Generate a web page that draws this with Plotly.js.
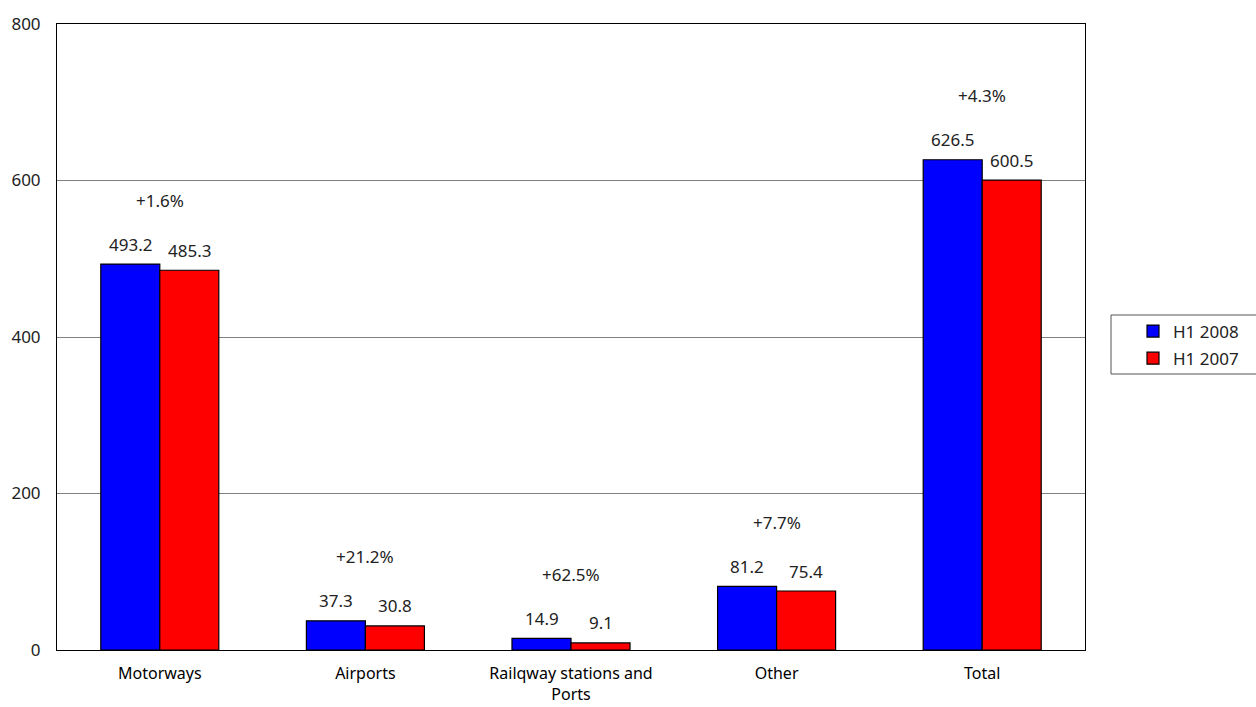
<!DOCTYPE html>
<html><head><meta charset="utf-8">
<script src="https://cdn.plot.ly/plotly-3.0.1.min.js"></script>
<style>body{margin:0;}#c{width:1256px;height:707px;}</style>
</head><body><div id="c"></div>
<script>
const categories = ["Motorways", "Airports", "Railqway stations and<br>Ports", "Other", "Total"];
const h12008 = [493.2, 37.3, 14.9, 81.2, 626.5];
const h12007 = [485.3, 30.8, 9.1, 75.4, 600.5];
const changes = ["+1.6%", "+21.2%", "+62.5%", "+7.7%", "+4.3%"];
const yTicks = [0, 200, 400, 600, 800];

const font = "Noto Sans, DejaVu Sans, sans-serif";
const traces = [
  {type: "bar", name: "H1 2008", legendgroup: "a", x: categories, y: h12008, marker: {color: "#0000ff", line: {color: "#000", width: 1.2}}},
  {type: "bar", name: "H1 2007", legendgroup: "b", x: categories, y: h12007, marker: {color: "#ff0000", line: {color: "#000", width: 1.2}}}
];
const annotations = [];
categories.forEach((c, i) => {
  annotations.push({x: c, y: h12008[i], xref: "x", yref: "y", text: h12008[i].toFixed(1), showarrow: false, xshift: -29.5, yshift: 20, yanchor: "middle", font: {size: 17, color: "#222", family: font}});
  annotations.push({x: c, y: h12007[i], xref: "x", yref: "y", text: h12007[i].toFixed(1), showarrow: false, xshift: 29.5, yshift: 20, yanchor: "middle", font: {size: 17, color: "#222", family: font}});
  annotations.push({x: c, y: Math.max(h12008[i], h12007[i]), xref: "x", yref: "y", text: changes[i], showarrow: false, yshift: 64, yanchor: "middle", font: {size: 17, color: "#222", family: font}});
});
const layout = {
  width: 1256, height: 707,
  margin: {l: 57, r: 171, t: 24, b: 57, autoexpand: false},
  paper_bgcolor: "#fff", plot_bgcolor: "#fff",
  barmode: "group", bargap: 0.426, bargroupgap: 0,
  font: {family: font, size: 15, color: "#000"},
  xaxis: {showline: true, mirror: true, linecolor: "#000", linewidth: 1, ticks: "", tickfont: {size: 16, color: "#000"}, ticklabelstandoff: 9, automargin: false},
  yaxis: {range: [0, 800], tickvals: yTicks, ticktext: yTicks.map(String), showgrid: true, gridcolor: "#808080", gridwidth: 1, showline: true, mirror: true, linecolor: "#000", linewidth: 1, ticks: "", zeroline: false, tickfont: {size: 17, color: "#222"}, ticklabelstandoff: 12, automargin: false},
  legend: {xref: "container", yref: "container", x: 1133 / 1256, xanchor: "left", y: (707 - 345) / 707, yanchor: "middle", borderwidth: 0, bgcolor: "rgba(0,0,0,0)", font: {size: 17, color: "#222"}, itemwidth: 30, tracegroupgap: 2},
  showlegend: true,
  shapes: [{type: "rect", xref: "paper", yref: "paper", x0: (1111 - 57) / 1028, x1: (1258 - 57) / 1028, y0: (650 - 374) / 626, y1: (650 - 315) / 626, line: {color: "#555", width: 1}, fillcolor: "rgba(0,0,0,0)"}],
  annotations: annotations
};
Plotly.newPlot("c", traces, layout, {displayModeBar: false, staticPlot: true});
</script>
</body></html>
